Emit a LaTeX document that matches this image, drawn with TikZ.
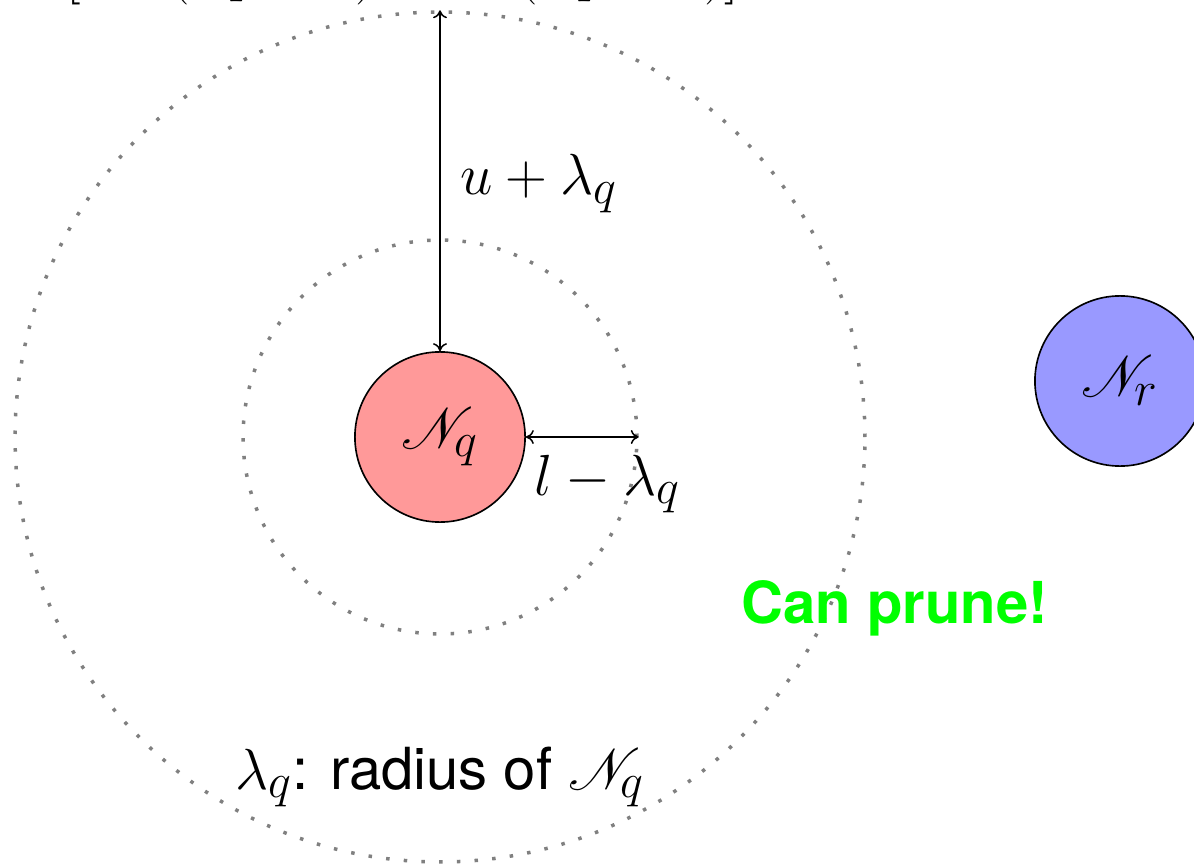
\documentclass[tikz,border=0pt]{standalone}
\usepackage{mathrsfs}
\usepackage{fontspec}
\newfontfamily\helv{TeX Gyre Heros}
\usetikzlibrary{arrows.meta}
\tikzset{
  bigtext/.style={font=\Huge, inner sep=0pt},
  sanstext/.style={font=\Huge\helv, inner sep=0pt},
  ball/.style={circle, draw=black, line width=0.7pt, minimum size=73pt, inner sep=0pt, font=\Huge},
  ring/.style={circle, draw=gray, line width=1.5pt, dash pattern=on 1.5pt off 6.1pt, inner sep=0pt},
  measure/.style={line width=0.65pt, {To[length=3.4pt,width=6pt]}-{To[length=3.4pt,width=6pt]}},
}
\begin{document}
\begin{tikzpicture}[x=0.429pt,y=-0.429pt]
\useasboundingbox (0,0) rectangle (1194,864);
\node[ring, minimum size=364.6pt] (outer) at (440,437) {};
\node[ring, minimum size=169pt] (inner) at (440,437) {};
\node[ball, fill=red!40] (nq) at (440,437) {$\mathscr{N}_q$};
\node[ball, fill=blue!40] (nr) at (1120,381) {$\mathscr{N}_r$};
\draw[measure] (outer.north) -- (nq.north);
\draw[measure] (nq.east) -- (inner.east);
\node[bigtext, anchor=base west] (ul) at (460,195) {$u+\lambda_q$};
\node[bigtext, anchor=base west] (ll) at (534,495) {$l-\lambda_q$};
\node[sanstext, anchor=base west, text=green, font=\Huge\helv\bfseries] (prune) at (741,623) {Can prune!};
\node[sanstext, anchor=base west] (rad) at (235,789) {$\lambda_q$: radius of $\mathscr{N}_q$};
\node[bigtext, anchor=base west] (top) at (66,-9) {$[\min(x\,p\,\mathrm{dist})\;\;\max(x\,p\,\mathrm{dist})]$};
\end{tikzpicture}
\end{document}
